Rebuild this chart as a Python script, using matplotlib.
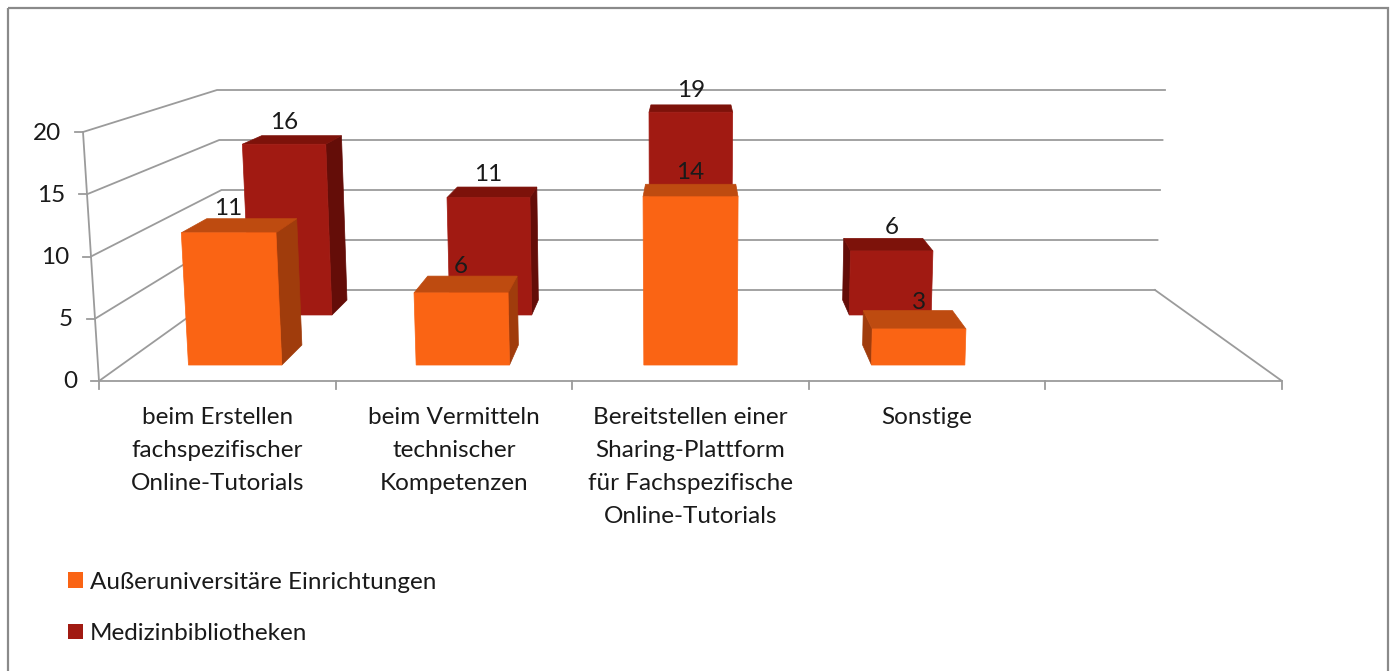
import matplotlib
matplotlib.use("Agg")
import matplotlib.pyplot as plt
from matplotlib.patches import Polygon, Rectangle, Patch
import numpy as np

# ---------------- data ----------------
categories = [
    "beim Erstellen\nfachspezifischer\nOnline-Tutorials",
    "beim Vermitteln\ntechnischer\nKompetenzen",
    "Bereitstellen einer\nSharing-Plattform\nfür Fachspezifische\nOnline-Tutorials",
    "Sonstige",
]
series_names = ["Außeruniversitäre Einrichtungen", "Medizinbibliotheken"]
aussen = [11, 6, 14, 3]
medizin = [16, 11, 19, 6]
y_ticks = [0, 5, 10, 15, 20]
y_max = 20
n_slots = 5  # Excel leaves an empty category slot at the right

# ---------------- style ----------------
FONT = ["Lato", "DejaVu Sans"]
plt.rcParams["font.family"] = FONT
FS = 17.5
TXT = "#1a1a1a"
GRID = "#9b9b9b"
colors = {
    "aussen": dict(front="#FA6414", top="#BE4B10", side="#A03C0C"),
    "medizin": dict(front="#A11A12", top="#7D120A", side="#640D08"),
}

# perspective frame of the 3-D plot area (pixel space of the axes)
F_BL, F_BR, F_TL, F_TR = (99, 381), (1282, 381), (83, 132), (1298, 132)
B_BL, B_BR, B_TL, B_TR = (226, 290), (1155, 290), (217, 90), (1165, 90)
DEPTH_RATIO = 1.266


def _plane(bl, br, tl, tr, u, v):
    bl, br, tl, tr = map(np.asarray, (bl, br, tl, tr))
    bot = bl + (br - bl) * u
    top = tl + (tr - tl) * u
    return bot + (top - bot) * v


def proj(u, value, t):
    v = value / y_max
    f = _plane(F_BL, F_BR, F_TL, F_TR, u, v)
    b = _plane(B_BL, B_BR, B_TL, B_TR, u, v)
    wf, wb = (1 - t), t * DEPTH_RATIO
    return (f * wf + b * wb) / (wf + wb)


fig = plt.figure(figsize=(13.94, 6.71), dpi=100)
ax = fig.add_axes([0, 0, 1, 1])
ax.set_xlim(0, 1394)
ax.set_ylim(671, 0)
ax.axis("off")

# outer chart border
ax.add_patch(Rectangle((8, 8), 1380, 700, fill=False, edgecolor="#8a8a8a", lw=1.6, zorder=0))

# walls: gridlines on back wall and side wall
for yt in y_ticks:
    p0, p1 = proj(0, yt, 0), proj(0, yt, 1)
    p2 = proj(1, yt, 1)
    ax.plot([p0[0], p1[0], p2[0]], [p0[1], p1[1], p2[1]], color=GRID, lw=1.3, zorder=1,
            solid_joinstyle="miter")
# floor front and right edge
pa, pb, pc = proj(0, 0, 0), proj(1, 0, 0), proj(1, 0, 1)
ax.plot([pa[0], pb[0], pc[0]], [pa[1], pb[1], pc[1]], color=GRID, lw=1.3, zorder=1)
# value axis line
pt = proj(0, y_max, 0)
ax.plot([pa[0], pt[0]], [pa[1], pt[1]], color=GRID, lw=1.3, zorder=1)
for yt in y_ticks:
    p = proj(0, yt, 0)
    ax.plot([p[0] - 8, p[0]], [p[1], p[1]], color=GRID, lw=1.3, zorder=1)
    ax.text(p[0] - 22, p[1] + 1, str(yt), ha="right", va="center", fontsize=FS, color=TXT)
# category ticks
for i in range(n_slots + 1):
    p = proj(i / n_slots, 0, 0)
    ax.plot([p[0], p[0]], [p[1], p[1] + 8], color=GRID, lw=1.3, zorder=1)
# category labels
for i, lab in enumerate(categories):
    p = proj((i + 0.5) / n_slots, 0, 0)
    ax.text(p[0], 407, lab, ha="center", va="top", fontsize=FS, color=TXT, linespacing=1.7)


def draw_bar(i, val, t0, t1, col, zo):
    u0 = (i + 0.295) / n_slots
    u1 = (i + 0.705) / n_slots
    front = [proj(u0, 0, t0), proj(u1, 0, t0), proj(u1, val, t0), proj(u0, val, t0)]
    top = [proj(u0, val, t0), proj(u1, val, t0), proj(u1, val, t1), proj(u0, val, t1)]
    # side faces
    if proj(u1, 0, t1)[0] > proj(u1, 0, t0)[0] + 0.5:
        side = [proj(u1, 0, t0), proj(u1, 0, t1), proj(u1, val, t1), proj(u1, val, t0)]
        ax.add_patch(Polygon(side, closed=True, facecolor=col["side"], edgecolor=col["side"], lw=0.5, zorder=zo))
    if proj(u0, 0, t1)[0] < proj(u0, 0, t0)[0] - 0.5:
        side = [proj(u0, 0, t0), proj(u0, 0, t1), proj(u0, val, t1), proj(u0, val, t0)]
        ax.add_patch(Polygon(side, closed=True, facecolor=col["side"], edgecolor=col["side"], lw=0.5, zorder=zo))
    ax.add_patch(Polygon(top, closed=True, facecolor=col["top"], edgecolor=col["top"], lw=0.5, zorder=zo))
    ax.add_patch(Polygon(front, closed=True, facecolor=col["front"], edgecolor=col["front"], lw=0.5, zorder=zo))
    # data label
    pc_ = proj((u0 + u1) / 2, val, t0)
    pm = proj((u0 + u1) / 2, val, (t0 + t1) / 2)
    ax.text(pc_[0], pm[1] - 11, str(val), ha="center", va="baseline", fontsize=FS, color=TXT,
            zorder=zo + 0.5)


# back row (Medizinbibliotheken) first, then front row
for i, val in enumerate(medizin):
    draw_bar(i, val, 0.676, 0.865, colors["medizin"], 3)
for i, val in enumerate(aussen):
    draw_bar(i, val, 0.144, 0.341, colors["aussen"], 5)

# legend
handles = [Patch(facecolor=colors["aussen"]["front"], edgecolor="none"),
           Patch(facecolor=colors["medizin"]["front"], edgecolor="none")]
leg = ax.legend(handles, series_names, loc="upper left", bbox_to_anchor=(58 / 1394, 1 - 562 / 671),
                frameon=False, fontsize=FS, handlelength=0.62, handleheight=0.62,
                handletextpad=0.3, labelspacing=1.25, borderaxespad=0)
for txt in leg.get_texts():
    txt.set_color(TXT)

fig.savefig("out.png", dpi=100)
